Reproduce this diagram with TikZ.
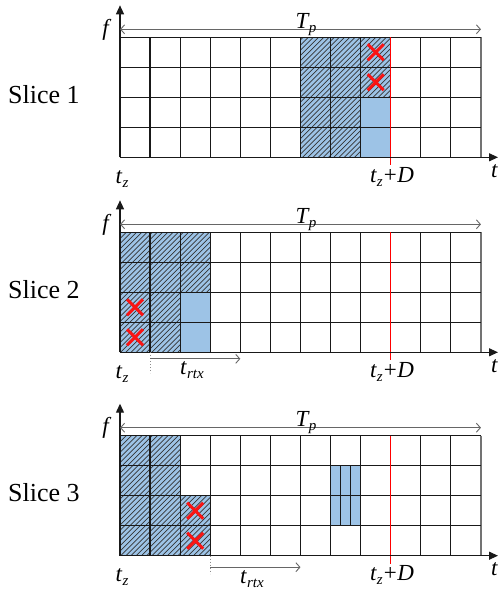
\documentclass[tikz,border=0pt]{standalone}
\usepackage{fontspec}
\newfontfamily\lib{Liberation Serif}
\usetikzlibrary{arrows.meta}
\definecolor{cellblue}{RGB}{157,195,230}
\definecolor{xred}{RGB}{250,20,20}
\definecolor{gridc}{RGB}{25,25,25}
\newcommand\cw{30.08}
\newcommand\subl[1]{\raisebox{-0.4ex}{\fontsize{15}{15}\selectfont\lib\itshape #1}}
\newcommand\bcell[2]{\fill[cellblue] ({120+#1*\cw},{#2*30}) rectangle ++(\cw,30);}
\newcommand\hatchall{\foreach \k in {-130,-124.8,...,500} \draw[hatchline] (\k,121) -- ++(122,-122);}
\newcommand\xmk[2]{\draw[xmark] ({120+(#1+0.5)*\cw-8},{(#2+0.5)*30-8}) -- ++(16,16)
  ({120+(#1+0.5)*\cw-8},{(#2+0.5)*30+8}) -- ++(16,-16);}
% common frame: #1 = slice id, #2 = slice number text
\newcommand\frameparts[2]{%
  \foreach \i in {0,...,11} \draw[gridline] ({120+\i*\cw},0) -- ({120+\i*\cw},120);
  \draw[gridline,draw=black!55] ({120+12*\cw},0) -- ({120+12*\cw},120);
  \foreach \j in {0,...,3} \draw[gridline] (120,\j*30) -- ({120+12*\cw},\j*30);
  \coordinate (o#1) at (120,120);
  \coordinate (xe#1) at (498,120);
  \coordinate (ye#1) at (120,-32);
  \coordinate (tpa#1) at (120,-8);
  \coordinate (tpb#1) at ({120+12*\cw},-8);
  \coordinate (dla#1) at ({120+9*\cw},0);
  \coordinate (dlb#1) at ({120+9*\cw},128);
  \draw[deadline] (dla#1) -- (dlb#1);
  \draw[axis] (o#1) -- (xe#1);
  \draw[axis] (o#1) -- (ye#1);
  \draw[span] (tpa#1) -- (tpb#1);
  \node[lbl,anchor=base] (tp#1) at (306,-9) {\textit{T}\kern-1pt\subl{p}};
  \node[lbl,anchor=base] (f#1) at (107,-2) {\textit{f}};
  \node[lbl,anchor=base west] (t#1) at (491,140) {\textit{t}};
  \node[lbl,anchor=base] (tz#1) at (122,146) {\textit{t}\subl{z}};
  \node[lbl,anchor=base] (tzd#1) at (392,145) {\textit{t}\subl{z}\kern1pt+\kern0.5pt\textit{D}};
  \node[slicelbl] (s#1) at (8,66) {Slice #2};
}
\tikzset{
  hatchline/.style={draw=black!80,line width=0.7pt},
  gridline/.style={draw=gridc,line width=1.2pt},
  axis/.style={-{Triangle[length=9pt,width=8pt]},line width=1.2pt,draw=gridc},
  span/.style={{Straight Barb[length=4pt,width=9pt]}-{Straight Barb[length=4pt,width=9pt]},draw=black!60,line width=0.9pt},
  rspan/.style={-{Straight Barb[length=4pt,width=9pt]},draw=black!60,line width=0.9pt},
  deadline/.style={draw=red,line width=1.2pt},
  xmark/.style={draw=xred,line width=3pt},
  lbl/.style={font=\fontsize{23}{23}\selectfont\lib,inner sep=0pt},
  slicelbl/.style={font=\fontsize{26}{26}\selectfont\lib,inner sep=0pt,anchor=base west},
  dotline/.style={draw=black!45,dotted,line width=1pt},
  subline/.style={draw=gridc,line width=1pt},
}
\begin{document}
\begin{tikzpicture}[x=1pt,y=-1pt]
\useasboundingbox (0,0) rectangle (499,592);
% ---------- Slice 1 ----------
\begin{scope}[yshift=-37.3pt]
  \fill[cellblue] ({120+6*\cw},0) rectangle ({120+9*\cw},120);
  \begin{scope}
    \clip ({120+6*\cw},0) rectangle ({120+8*\cw},120) ({120+8*\cw},0) rectangle ({120+9*\cw},60);
    \hatchall
  \end{scope}
  \frameparts{a}{1}
  \xmk{8}{0} \xmk{8}{1}
\end{scope}
% ---------- Slice 2 ----------
\begin{scope}[yshift=-232.3pt]
  \fill[cellblue] (120,0) rectangle ({120+3*\cw},120);
  \begin{scope}
    \clip (120,0) rectangle ({120+2*\cw},120) ({120+2*\cw},0) rectangle ({120+3*\cw},60);
    \hatchall
  \end{scope}
  \frameparts{b}{2}
  \xmk{0}{2} \xmk{0}{3}
  \coordinate (da) at ({120+\cw},120);
  \coordinate (db) at ({120+\cw},141);
  \draw[dotline] (da) -- (db);
  \coordinate (ra) at ({120+\cw},126.5);
  \coordinate (rb) at ({120+4*\cw},126.5);
  \draw[rspan] (ra) -- (rb);
  \node[lbl,anchor=base] (rtxb) at (192,142) {\textit{t}\subl{rtx}};
\end{scope}
% ---------- Slice 3 ----------
\begin{scope}[yshift=-435.7pt]
  \fill[cellblue] (120,0) rectangle ({120+2*\cw},120) ({120+2*\cw},60) rectangle ({120+3*\cw},120);
  \begin{scope}
    \clip (120,0) rectangle ({120+2*\cw},120) ({120+2*\cw},60) rectangle ({120+3*\cw},120);
    \hatchall
  \end{scope}
  \bcell{7}{1} \bcell{7}{2}
  \coordinate (sa) at ({120+7*\cw+\cw/3},30);
  \coordinate (sb) at ({120+7*\cw+\cw/3},90);
  \coordinate (sc) at ({120+7*\cw+2*\cw/3},30);
  \coordinate (sd) at ({120+7*\cw+2*\cw/3},90);
  \draw[subline] (sa) -- (sb) (sc) -- (sd);
  \frameparts{c}{3}
  \xmk{2}{2} \xmk{2}{3}
  \coordinate (ea) at ({120+3*\cw},120);
  \coordinate (eb) at ({120+3*\cw},138);
  \draw[dotline] (ea) -- (eb);
  \coordinate (qa) at ({120+3*\cw},131.5);
  \coordinate (qb) at ({120+6*\cw},131.5);
  \draw[rspan] (qa) -- (qb);
  \node[lbl,anchor=base] (rtxc) at (252,148) {\textit{t}\subl{rtx}};
\end{scope}
\end{tikzpicture}
\end{document}
